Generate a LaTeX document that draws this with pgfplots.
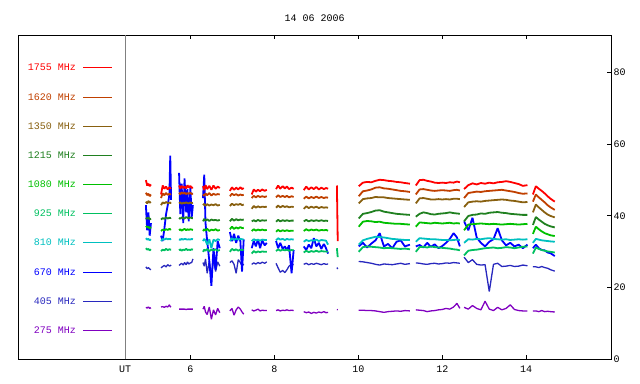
\documentclass[border=0pt]{standalone}
\usepackage{pgfplots}
\usepackage{pgfplotstable}
\pgfplotsset{compat=1.18}
\usepackage{fontspec}
\setmainfont{Liberation Mono}
\newcommand\ff{\fontsize{10bp}{12bp}\selectfont}
\definecolor{cA}{RGB}{255,0,0}
\definecolor{cB}{RGB}{192,64,0}
\definecolor{cC}{RGB}{136,96,16}
\definecolor{cD}{RGB}{32,128,32}
\definecolor{cE}{RGB}{0,192,0}
\definecolor{cF}{RGB}{0,192,96}
\definecolor{cG}{RGB}{0,192,192}
\definecolor{cH}{RGB}{0,0,255}
\definecolor{cI}{RGB}{40,40,190}
\definecolor{cJ}{RGB}{128,0,192}
\pgfplotstableread{
t r o b g l e c u d p
4.94 50.0 46.5 44.0 39.5 37.2 31.0 33.8 43.0 25.8 14.5
4.97 48.5 45.8 43.5 39.2 36.8 30.6 33.4 36.0 25.3 14.3
5.00 49.0 46.2 44.2 39.6 37.0 30.8 33.6 41.0 25.6 14.6
5.03 48.3 45.5 43.7 39.0 36.5 30.4 33.2 34.5 25.2 14.2
5.06 48.8 46.0 43.9 39.3 36.9 30.7 33.5 38.0 25.0 14.4
5.15 nan nan nan nan nan nan nan nan nan nan
5.30 46.0 45.0 43.0 39.0 35.8 30.2 33.0 34.5 25.5 14.6
5.34 48.5 46.3 43.8 39.4 36.2 30.6 33.6 33.0 25.9 14.7
5.38 47.6 45.8 43.5 39.2 36.0 30.4 33.4 36.5 26.2 14.5
5.42 48.2 46.4 43.9 39.6 36.3 30.8 33.7 40.5 25.8 14.8
5.46 47.4 45.9 43.6 39.3 36.1 30.5 33.5 43.0 26.4 14.6
5.50 48.0 46.2 43.7 39.5 36.4 30.7 33.6 46.0 26.0 15.2
5.52 47.7 46.0 43.6 39.4 36.2 30.6 33.5 56.8 26.1 14.7
5.54 47.9 46.1 43.8 39.5 36.3 30.6 33.6 44.5 26.3 14.6
5.64 nan nan nan nan nan nan nan nan nan nan
5.73 48.5 46.5 43.5 39.5 36.0 30.4 33.5 52.0 26.2 14.0
5.76 47.6 46.0 43.8 39.2 36.3 30.7 33.3 40.5 26.5 14.0
5.79 48.4 46.6 43.4 39.6 35.9 30.3 33.6 49.0 26.8 14.0
5.83 47.8 46.2 43.7 39.4 36.2 30.6 33.4 38.0 26.3 14.0
5.86 48.2 46.5 43.5 39.3 36.4 30.5 33.6 50.5 27.0 14.0
5.90 47.7 46.1 43.8 39.7 36.0 30.8 33.5 41.0 26.4 13.9
5.93 48.6 46.4 43.6 39.5 36.3 30.5 33.4 47.5 27.2 14.0
5.96 47.9 46.2 43.5 39.4 36.1 30.6 33.5 38.5 26.6 14.0
6.00 48.4 46.5 43.8 39.6 36.3 30.5 33.4 48.0 26.9 14.0
6.03 47.8 46.1 43.6 39.4 36.2 30.7 33.6 39.5 27.0 14.0
6.06 48.0 46.3 43.7 39.4 36.1 30.6 33.5 43.0 28.0 14.0
6.18 nan nan nan nan nan nan nan nan nan nan
6.30 48.3 46.0 43.0 38.5 35.8 30.0 33.0 45.0 27.0 14.0
6.33 47.2 45.6 43.4 39.2 36.3 30.6 33.6 51.5 26.0 14.8
6.36 48.6 46.3 42.8 38.7 35.9 30.3 33.2 38.0 28.0 13.2
6.40 47.5 45.8 43.3 39.1 36.4 30.8 32.0 33.0 24.0 12.5
6.45 48.4 46.4 42.9 38.6 35.8 30.2 33.5 27.5 27.5 14.6
6.50 47.3 45.7 43.2 39.0 36.2 30.6 31.0 20.5 23.0 11.2
6.55 48.5 46.2 43.0 38.8 36.0 30.4 33.4 31.0 28.0 13.8
6.60 47.6 45.9 43.3 38.9 36.3 30.7 33.0 25.0 24.5 12.4
6.65 48.2 46.1 42.9 38.7 35.9 30.3 33.5 33.0 27.2 14.2
6.70 47.8 46.0 43.1 38.9 36.1 30.5 33.3 31.0 26.0 13.0
6.82 nan nan nan nan nan nan nan nan nan nan
6.94 47.0 45.5 42.8 38.5 36.3 30.0 33.0 35.5 27.0 13.5
6.99 48.0 46.2 43.4 39.2 37.0 30.8 33.8 33.0 27.5 14.2
7.04 47.3 45.8 43.0 38.7 36.4 30.4 33.3 35.0 26.5 12.3
7.09 47.9 46.1 43.3 39.1 36.8 30.7 33.7 32.5 24.0 13.8
7.14 47.4 45.7 43.1 38.8 36.5 30.3 33.4 34.5 27.8 14.6
7.19 48.0 46.0 43.4 39.0 36.9 30.6 33.6 33.0 27.0 14.0
7.23 47.5 45.8 43.0 38.9 36.6 30.5 33.5 24.5 26.0 13.2
7.27 47.8 45.9 43.2 39.0 36.7 30.6 33.4 33.5 26.6 12.6
7.36 nan nan nan nan nan nan nan nan nan nan
7.46 46.0 45.0 42.0 38.5 35.8 29.5 33.0 31.0 26.5 13.8
7.51 47.4 45.6 42.8 38.8 36.3 30.2 33.5 33.0 26.9 13.5
7.56 46.8 45.2 42.3 38.5 35.9 29.8 33.2 31.5 26.6 13.7
7.61 47.3 45.6 42.7 38.9 36.2 30.1 33.4 33.5 27.0 14.0
7.66 46.9 45.3 42.4 38.6 36.0 29.9 33.1 31.0 26.7 13.5
7.71 47.4 45.5 42.6 38.8 36.2 30.1 33.4 33.2 27.1 13.7
7.77 47.0 45.3 42.5 38.7 36.0 30.0 33.3 31.8 26.8 13.6
7.82 47.3 45.5 42.6 38.8 36.1 30.0 33.3 32.5 27.2 13.6
7.93 nan nan nan nan nan nan nan nan nan nan
8.04 47.5 45.2 42.3 38.4 35.6 30.2 33.2 33.0 26.8 13.6
8.09 48.5 45.8 42.9 38.9 36.1 30.7 33.8 31.0 25.5 13.8
8.14 47.6 45.3 42.4 38.5 35.7 30.3 33.4 32.5 24.3 13.5
8.20 48.3 45.6 42.8 38.8 36.0 30.6 33.6 30.8 24.8 13.7
8.25 47.7 45.3 42.5 38.6 35.8 30.4 33.3 31.5 24.2 13.6
8.30 48.2 45.6 42.7 38.8 36.0 30.6 33.6 30.5 25.0 13.8
8.35 47.5 45.2 42.4 38.6 35.8 30.3 33.4 31.8 26.0 13.6
8.41 47.9 45.5 42.6 38.7 35.9 30.5 33.5 24.0 26.5 13.7
8.46 47.6 45.3 42.5 38.7 35.9 30.4 33.4 30.5 26.4 13.6
8.58 nan nan nan nan nan nan nan nan nan nan
8.70 47.2 44.8 42.0 38.5 35.8 29.8 32.8 31.5 26.5 13.3
8.76 48.2 45.4 42.7 38.9 36.3 30.3 33.3 30.5 26.8 13.0
8.82 47.4 44.9 42.2 38.5 35.9 29.9 33.0 32.0 26.4 13.2
8.88 48.0 45.3 42.6 38.8 36.2 30.2 33.2 31.0 26.7 12.8
8.94 47.5 45.0 42.3 38.6 36.0 30.0 33.1 33.8 26.5 13.1
9.00 48.1 45.4 42.6 38.8 36.2 30.3 33.4 31.5 26.8 12.9
9.06 47.4 45.0 42.2 38.6 35.9 30.0 33.0 32.5 26.6 13.2
9.12 47.9 45.3 42.5 38.8 36.1 30.2 33.3 30.8 26.4 13.0
9.18 47.5 45.0 42.3 38.6 36.0 30.1 33.2 32.2 26.7 13.3
9.23 47.8 45.2 42.4 38.7 36.1 30.1 33.1 31.0 26.5 13.0
9.28 47.6 45.1 42.3 38.6 35.9 30.0 32.0 29.5 26.6 13.1
9.39 nan nan nan nan nan nan nan nan nan nan
9.49 48.5 nan nan nan nan 31.0 nan nan 25.6 13.9
9.51 33.0 nan nan nan nan 28.5 nan nan 25.2 13.8
9.75 nan nan nan nan nan nan nan nan nan nan
10.01 48.3 45.5 43.5 39.3 37.0 30.0 32.0 31.5 27.3 13.7
10.11 49.3 46.9 44.7 40.6 38.4 31.3 33.2 32.5 27.2 13.7
10.21 49.5 47.1 44.9 40.8 38.6 31.5 33.6 31.2 27.0 13.6
10.31 49.4 47.4 45.0 41.1 38.5 31.4 33.9 32.3 26.8 13.6
10.41 49.8 47.9 45.3 41.5 38.3 31.3 34.2 33.2 26.5 13.5
10.51 50.1 48.0 45.2 41.6 38.4 31.2 34.1 35.2 26.3 13.3
10.61 50.0 47.7 45.2 41.2 38.1 31.0 34.0 31.5 26.6 13.1
10.71 49.8 47.6 45.0 41.0 38.0 31.1 33.8 32.2 26.5 13.3
10.81 49.7 47.4 44.9 40.8 37.9 31.0 33.6 31.0 26.4 13.4
10.91 49.5 47.2 44.8 40.6 37.8 30.9 33.5 32.8 26.6 13.5
11.01 49.4 47.0 44.7 40.5 37.8 30.8 33.4 33.2 26.8 13.4
11.11 49.2 46.9 44.6 40.4 37.7 30.9 33.3 31.5 26.5 13.6
11.23 49.0 46.7 44.5 40.3 37.6 30.7 33.3 32.0 26.7 13.5
11.30 nan nan nan nan nan nan nan nan nan nan
11.37 48.5 46.0 43.5 39.8 37.0 30.0 32.8 31.5 26.9 13.8
11.46 50.0 47.4 44.9 40.6 38.2 31.3 33.8 31.9 26.8 13.7
11.55 50.1 47.5 45.0 41.0 38.1 31.4 33.7 31.2 26.6 13.6
11.64 49.8 47.3 44.8 40.8 38.0 31.2 33.6 32.5 26.5 13.3
11.73 49.6 47.1 44.6 40.5 37.9 31.5 33.5 31.4 26.7 13.5
11.82 49.3 47.0 44.6 40.4 38.1 31.3 33.5 32.1 26.8 13.6
11.91 49.2 47.1 44.7 40.6 38.0 31.2 33.4 31.0 26.6 13.8
12.00 49.3 47.2 44.6 40.7 37.9 31.1 33.3 31.6 26.7 13.9
12.09 49.2 47.1 44.7 40.8 38.0 31.0 33.3 32.5 26.9 14.2
12.18 49.4 47.0 44.6 41.0 38.1 30.9 33.2 33.6 26.8 14.0
12.27 49.3 47.2 44.8 40.8 37.9 30.7 33.3 35.2 27.0 14.6
12.35 49.6 47.3 44.8 40.7 38.0 30.6 33.4 34.0 26.9 15.6
12.42 49.4 47.1 44.7 40.6 37.9 30.4 33.3 31.5 26.8 14.2
12.47 nan nan nan nan nan nan nan nan nan nan
12.52 47.5 45.0 42.5 38.5 36.0 29.0 32.5 38.5 28.5 14.5
12.62 48.6 46.4 43.8 40.0 37.6 30.3 33.5 36.0 27.0 14.0
12.72 49.1 46.6 44.0 40.3 37.7 30.5 33.4 39.5 27.8 15.0
12.82 48.8 46.8 44.1 40.4 37.8 30.6 33.6 34.0 26.5 14.2
12.92 49.2 46.7 44.0 40.7 37.9 30.8 33.5 32.5 26.3 13.8
13.02 49.0 46.9 44.2 40.6 37.8 31.0 33.7 31.5 26.4 16.2
13.12 49.3 47.0 44.3 40.9 37.7 31.1 33.8 32.8 18.9 14.0
13.22 49.1 47.1 44.4 41.0 37.8 31.2 33.6 33.5 26.5 13.6
13.32 49.4 47.2 44.5 41.1 37.7 31.0 33.5 36.6 26.8 14.5
13.42 49.5 47.3 44.6 40.9 37.6 31.1 33.4 33.2 25.9 13.8
13.52 49.7 47.1 44.5 40.8 37.7 31.3 33.5 31.8 26.0 14.2
13.62 49.5 46.9 44.3 40.6 37.8 31.2 33.3 32.5 26.2 15.2
13.72 49.2 46.7 44.2 40.5 37.7 31.0 33.4 31.5 25.9 13.9
13.82 48.9 46.4 44.0 40.4 37.6 31.2 33.5 32.0 26.0 13.6
13.92 48.4 46.2 43.8 40.3 37.7 31.4 33.4 31.0 26.3 13.5
14.03 48.6 46.3 43.9 40.3 37.8 31.5 33.5 32.0 26.1 13.5
14.10 nan nan nan nan nan nan nan nan nan nan
14.16 46.0 44.0 41.0 37.5 35.0 29.5 32.5 31.0 25.8 13.5
14.23 48.3 46.0 43.2 39.7 37.0 31.2 33.6 32.0 25.8 13.5
14.30 47.6 45.2 42.4 39.0 36.3 30.8 33.4 31.0 25.6 13.3
14.37 47.0 44.5 41.7 38.4 35.7 30.5 33.2 30.5 25.9 13.6
14.44 46.3 43.8 41.0 37.8 35.2 30.3 33.1 30.4 25.6 13.3
14.51 45.5 43.0 40.4 37.4 34.9 30.1 33.0 29.8 25.4 13.4
14.58 44.8 42.4 40.0 37.1 34.6 30.0 32.9 29.6 25.0 13.3
14.68 44.0 41.7 39.6 36.8 34.4 29.8 32.8 28.8 24.6 13.2
}\data
\begin{document}
\ff
\begin{tikzpicture}
\path[use as bounding box] (-18.3bp,-24.7bp) rectangle (621.7bp,359.3bp);
\begin{axis}[
  at={(0,0)}, anchor=south west,
  scale only axis, width=592.7bp, height=324.3bp,
  xmin=1.9, xmax=16.02, ymin=0, ymax=90.5,
  unbounded coords=jump,
  axis line style={black, line width=1bp},
  tick align=inside,
  major tick length=4bp,
  tick style={black, line width=1bp},
  xtick={6,8,10,12,14},
  xtick pos=both,
  ytick={0,20,40,60,80},
  ytick pos=right,
  yticklabel pos=right,
  /pgf/number format/assume math mode=true,
  ticklabel style={font=\ff},
  xticklabel style={yshift=-3bp},
  yticklabel style={xshift=-1bp},
  extra x ticks={4.447},
  extra x tick labels={UT},
  extra x tick style={major tick length=0pt, grid=major, major grid style={draw=gray, line width=1bp}},
  title={14 06 2006},
  every axis title/.style={at={(0.5,1)}, anchor=center, yshift=16.7bp, font=\ff},
  every axis plot/.append style={line width=1.8bp, mark=none, line join=bevel},
]
\addplot[cJ, line width=1.3bp] table[x=t,y=p]{\data};
\addplot[cI, line width=1.3bp] table[x=t,y=d]{\data};
\addplot[cH] table[x=t,y=u]{\data};
\addplot[cG] table[x=t,y=c]{\data};
\addplot[cF] table[x=t,y=e]{\data};
\addplot[cE] table[x=t,y=l]{\data};
\addplot[cD] table[x=t,y=g]{\data};
\addplot[cC] table[x=t,y=b]{\data};
\addplot[cB] table[x=t,y=o]{\data};
\addplot[cA] table[x=t,y=r]{\data};
\end{axis}
\foreach \lab/\col/\yy in {1755/cA/291.8,1620/cB/261.8,1350/cC/232.8,1215/cD/203.8,1080/cE/174.8,925/cF/145.8,810/cG/116.8,670/cH/86.8,405/cI/57.8,275/cJ/28.8}{
  \node[anchor=east, inner sep=0pt, text=\col, font=\ff] at (57.7bp,\yy bp) {\lab{} MHz};
  \draw[draw=\col, line width=1bp] (64.7bp,\yy bp) -- (93.7bp,\yy bp);
}
\end{tikzpicture}
\end{document}
